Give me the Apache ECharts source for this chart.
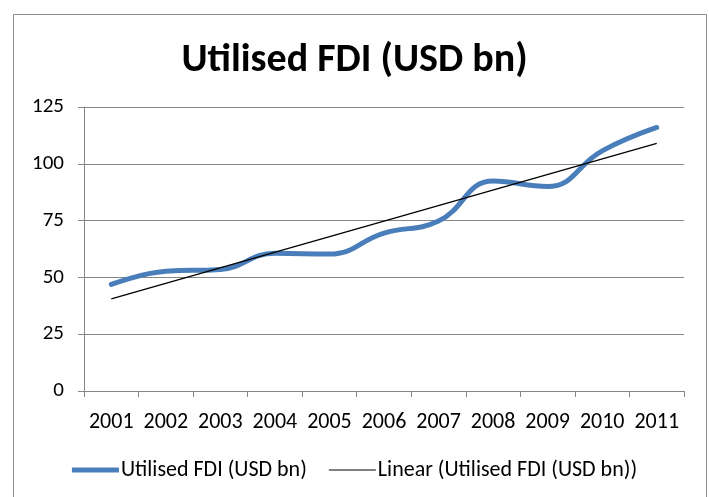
<!DOCTYPE html>
<html>
<head>
<meta charset="utf-8">
<style>
    html, body { margin: 0; padding: 0; background: #fff; }
    #chart { width: 709px; height: 497px; }
</style>
<script src="https://cdn.jsdelivr.net/npm/echarts@6/dist/echarts.min.js"></script>
</head>
<body>
<div id="chart"></div>
<script>
// data
const years = ['2001', '2002', '2003', '2004', '2005', '2006', '2007', '2008', '2009', '2010', '2011']
const fdiValues = [46.9, 52.7, 53.5, 60.6, 60.3, 69.5, 74.8, 92.4, 90.0, 105.7, 116.0]
// linear trend line
const trendStart = 40.6
const trendEnd = 109.0
const yTicks = { min: 0, max: 125, interval: 25 }

const fontFamily = 'Carlito, Calibri, Lato, sans-serif'
const gridColor = '#868686'

const chart = echarts.init(document.getElementById('chart'))

const option = {
    animation: false,
    backgroundColor: '#fff',
    title: {
        text: 'Utilised FDI (USD bn)',
        left: 'center',
        top: 36,
        textStyle: {
            fontFamily: fontFamily,
            fontSize: 40,
            fontWeight: 'bold',
            color: '#000'
        }
    },
    graphic: [
        {
            type: 'rect',
            shape: { x: 13.5, y: 14.5, width: 693, height: 500 },
            style: { fill: 'none', stroke: '#8c8c8c', lineWidth: 1 },
            silent: true
        }
    ],
    grid: {
        left: 84,
        right: 25,
        top: 107,
        bottom: 106
    },
    legend: {
        top: 454,
        left: 'center',
        itemWidth: 47,
        itemHeight: 10,
        itemGap: 22,
        textStyle: {
            fontFamily: fontFamily,
            fontSize: 22,
            color: '#000',
            padding: [0, 0, 0, -3]
        },
        data: [
            { name: 'Utilised FDI (USD bn)', icon: 'path://M0,0 L47,0 L47,5 L0,5 Z' },
            { name: 'Linear (Utilised FDI (USD bn))', icon: 'path://M0,0 L47,0 L47,1.2 L0,1.2 Z' }
        ]
    },
    xAxis: {
        type: 'category',
        data: years,
        boundaryGap: true,
        axisLine: { lineStyle: { color: gridColor, width: 1 } },
        axisTick: { show: true, length: 6, lineStyle: { color: gridColor } },
        axisLabel: {
            color: '#000',
            fontFamily: fontFamily,
            fontSize: 22,
            margin: 20,
            interval: 0
        },
        splitLine: { show: false }
    },
    yAxis: {
        type: 'value',
        min: yTicks.min,
        max: yTicks.max,
        interval: yTicks.interval,
        axisLine: { show: true, lineStyle: { color: gridColor, width: 1 } },
        axisTick: { show: true, length: 6, lineStyle: { color: gridColor } },
        axisLabel: {
            color: '#000',
            fontFamily: fontFamily,
            fontSize: 21,
            margin: 20
        },
        splitLine: { show: true, lineStyle: { color: gridColor, width: 1 } }
    },
    series: [
        {
            name: 'Utilised FDI (USD bn)',
            type: 'line',
            data: fdiValues,
            smooth: 0.45,
            symbol: 'none',
            lineStyle: { width: 5, color: '#4a7ebb', cap: 'round' },
            itemStyle: { color: '#4a7ebb' },
            z: 2
        },
        {
            name: 'Linear (Utilised FDI (USD bn))',
            type: 'line',
            data: [[years[0], trendStart], [years[years.length - 1], trendEnd]],
            symbol: 'none',
            lineStyle: { width: 1.3, color: '#000' },
            itemStyle: { color: '#000' },
            z: 3
        }
    ]
}

chart.setOption(option)
</script>
</body>
</html>
